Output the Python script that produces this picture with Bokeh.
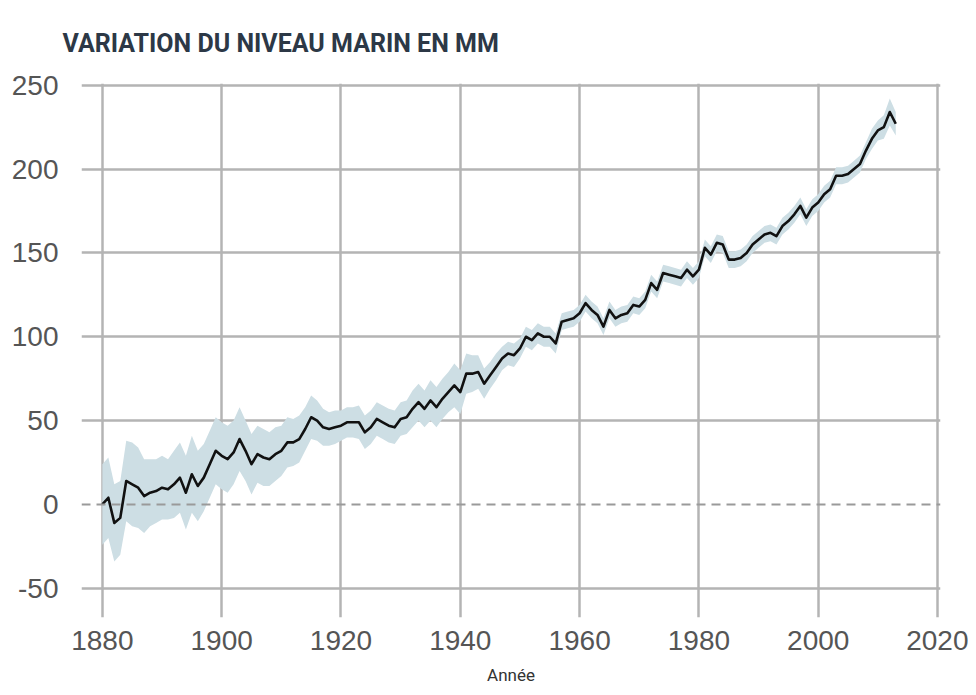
from bokeh.plotting import figure
from bokeh.models import Range1d, FixedTicker, Span, Title
from bokeh.embed import file_html
from bokeh.resources import INLINE

years = list(range(1880, 2014))

sea_level_mm = [
    0, 4, -11, -8, 14, 12, 10, 5, 7, 8,            # 1880-1889
    10, 9, 12, 16, 7, 18, 11, 16, 24, 32,          # 1890-1899
    29, 27, 31, 39, 32, 24, 30, 28, 27, 30,        # 1900-1909
    32, 37, 37, 39, 45, 52, 50, 46, 45, 46,        # 1910-1919
    47, 49, 49, 49, 43, 46, 51, 49, 47, 46,        # 1920-1929
    51, 52, 57, 61, 57, 62, 58, 63, 67, 71,        # 1930-1939
    67, 78, 78, 79, 72, 77, 82, 87, 90, 89,        # 1940-1949
    93, 100, 98, 102, 100, 100, 96, 109, 110, 111, # 1950-1959
    114, 120, 116, 113, 106, 116, 111, 113, 114, 119,  # 1960-1969
    118, 122, 132, 128, 138, 137, 136, 135, 140, 136,  # 1970-1979
    140, 153, 149, 156, 155, 146, 146, 147, 150, 155,  # 1980-1989
    158, 161, 162, 160, 166, 169, 173, 178, 171, 177,  # 1990-1999
    180, 185, 188, 196, 196, 197, 200, 203, 211, 218,  # 2000-2009
    223, 225, 234, 227,                                # 2010-2013
]

uncertainty_mm = [
    24, 24, 23, 22, 24, 25, 24, 22, 20, 19,
    19, 18, 20, 21, 22, 23, 21, 20, 20, 20,
    20, 20, 19, 19, 18, 18, 17, 17, 16, 16,
    15, 15, 14, 14, 13, 13, 12, 11, 10, 10,
    9, 9, 9, 10, 10, 10, 10, 10, 10, 10,
    10, 10, 11, 11, 11, 12, 12, 12, 12, 13,
    13, 12, 11, 10, 9, 8, 8, 7, 7, 7,
    6, 6, 6, 6, 6, 6, 6, 5, 5, 5,
    5, 5, 5, 5, 5, 5, 5, 5, 5, 5,
    5, 5, 5, 5, 5, 5, 5, 5, 5, 5,
    5, 5, 5, 5, 5, 5, 5, 5, 5, 5,
    5, 5, 5, 5, 5, 5, 5, 5, 5, 5,
    5, 5, 5, 5, 5, 5, 5, 5, 5, 6,
    6, 7, 8, 7,
]

x_ticks = [1880, 1900, 1920, 1940, 1960, 1980, 2000, 2020]
y_ticks = [-50, 0, 50, 100, 150, 200, 250]
y_tick_labels = ["-50", "0", "50", "100", "150", "200", "250"]
y_grid_ticks = [-50, 50, 100, 150, 200, 250]

title_text = "VARIATION DU NIVEAU MARIN EN MM"
x_label = "Année"

lower = [v - u for v, u in zip(sea_level_mm, uncertainty_mm)]
upper = [v + u for v, u in zip(sea_level_mm, uncertainty_mm)]

p = figure(width=968, height=687, output_backend="svg", toolbar_location=None,
           x_range=Range1d(1876.5, 2020.5), y_range=Range1d(-67.4, 251),
           min_border_left=81, min_border_right=28, min_border_top=83,
           min_border_bottom=60, title=None)
p.outline_line_color = None
p.background_fill_color = "white"
p.border_fill_color = "white"

t = Title(text=title_text, align="left", offset=-19, standoff=52,
          text_font="Roboto", text_font_style="bold",
          text_font_size="25px", text_color="#2c3846")
p.add_layout(t, "above")

# grid
p.xgrid.ticker = FixedTicker(ticks=x_ticks)
p.ygrid.ticker = FixedTicker(ticks=y_grid_ticks)
for g in (p.xgrid, p.ygrid):
    g.grid_line_color = "#b4b4b4"
    g.grid_line_width = 2.5

zero = Span(location=0, dimension="width", line_color="#9a9a9a",
            line_width=2, line_dash="9 6")
p.add_layout(zero)

p.varea(x=years, y1=lower, y2=upper, fill_color="#cddee4", fill_alpha=1.0)
p.line(x=years, y=sea_level_mm, line_color="#111111", line_width=2.6,
       line_join="round")

# axes
for ax in (p.xaxis, p.yaxis):
    ax.axis_line_color = None
    ax.major_tick_line_color = None
    ax.minor_tick_line_color = None
    ax.major_label_text_font = "Liberation Sans"
    ax.major_label_text_font_size = "28px"
    ax.major_label_text_color = "#555555"

p.xaxis.ticker = FixedTicker(ticks=x_ticks)
p.yaxis.ticker = FixedTicker(ticks=y_ticks)
p.yaxis.major_label_overrides = dict(zip(y_ticks, y_tick_labels))
p.yaxis.major_label_standoff = 17
p.xaxis.major_label_standoff = 7
p.xaxis.axis_label = x_label
p.xaxis.axis_label_text_font = "Roboto"
p.xaxis.axis_label_text_font_style = "normal"
p.xaxis.axis_label_text_font_size = "17px"
p.xaxis.axis_label_text_color = "#333333"
p.xaxis.axis_label_standoff = 12

open("out.html", "w").write(file_html(p, INLINE))
